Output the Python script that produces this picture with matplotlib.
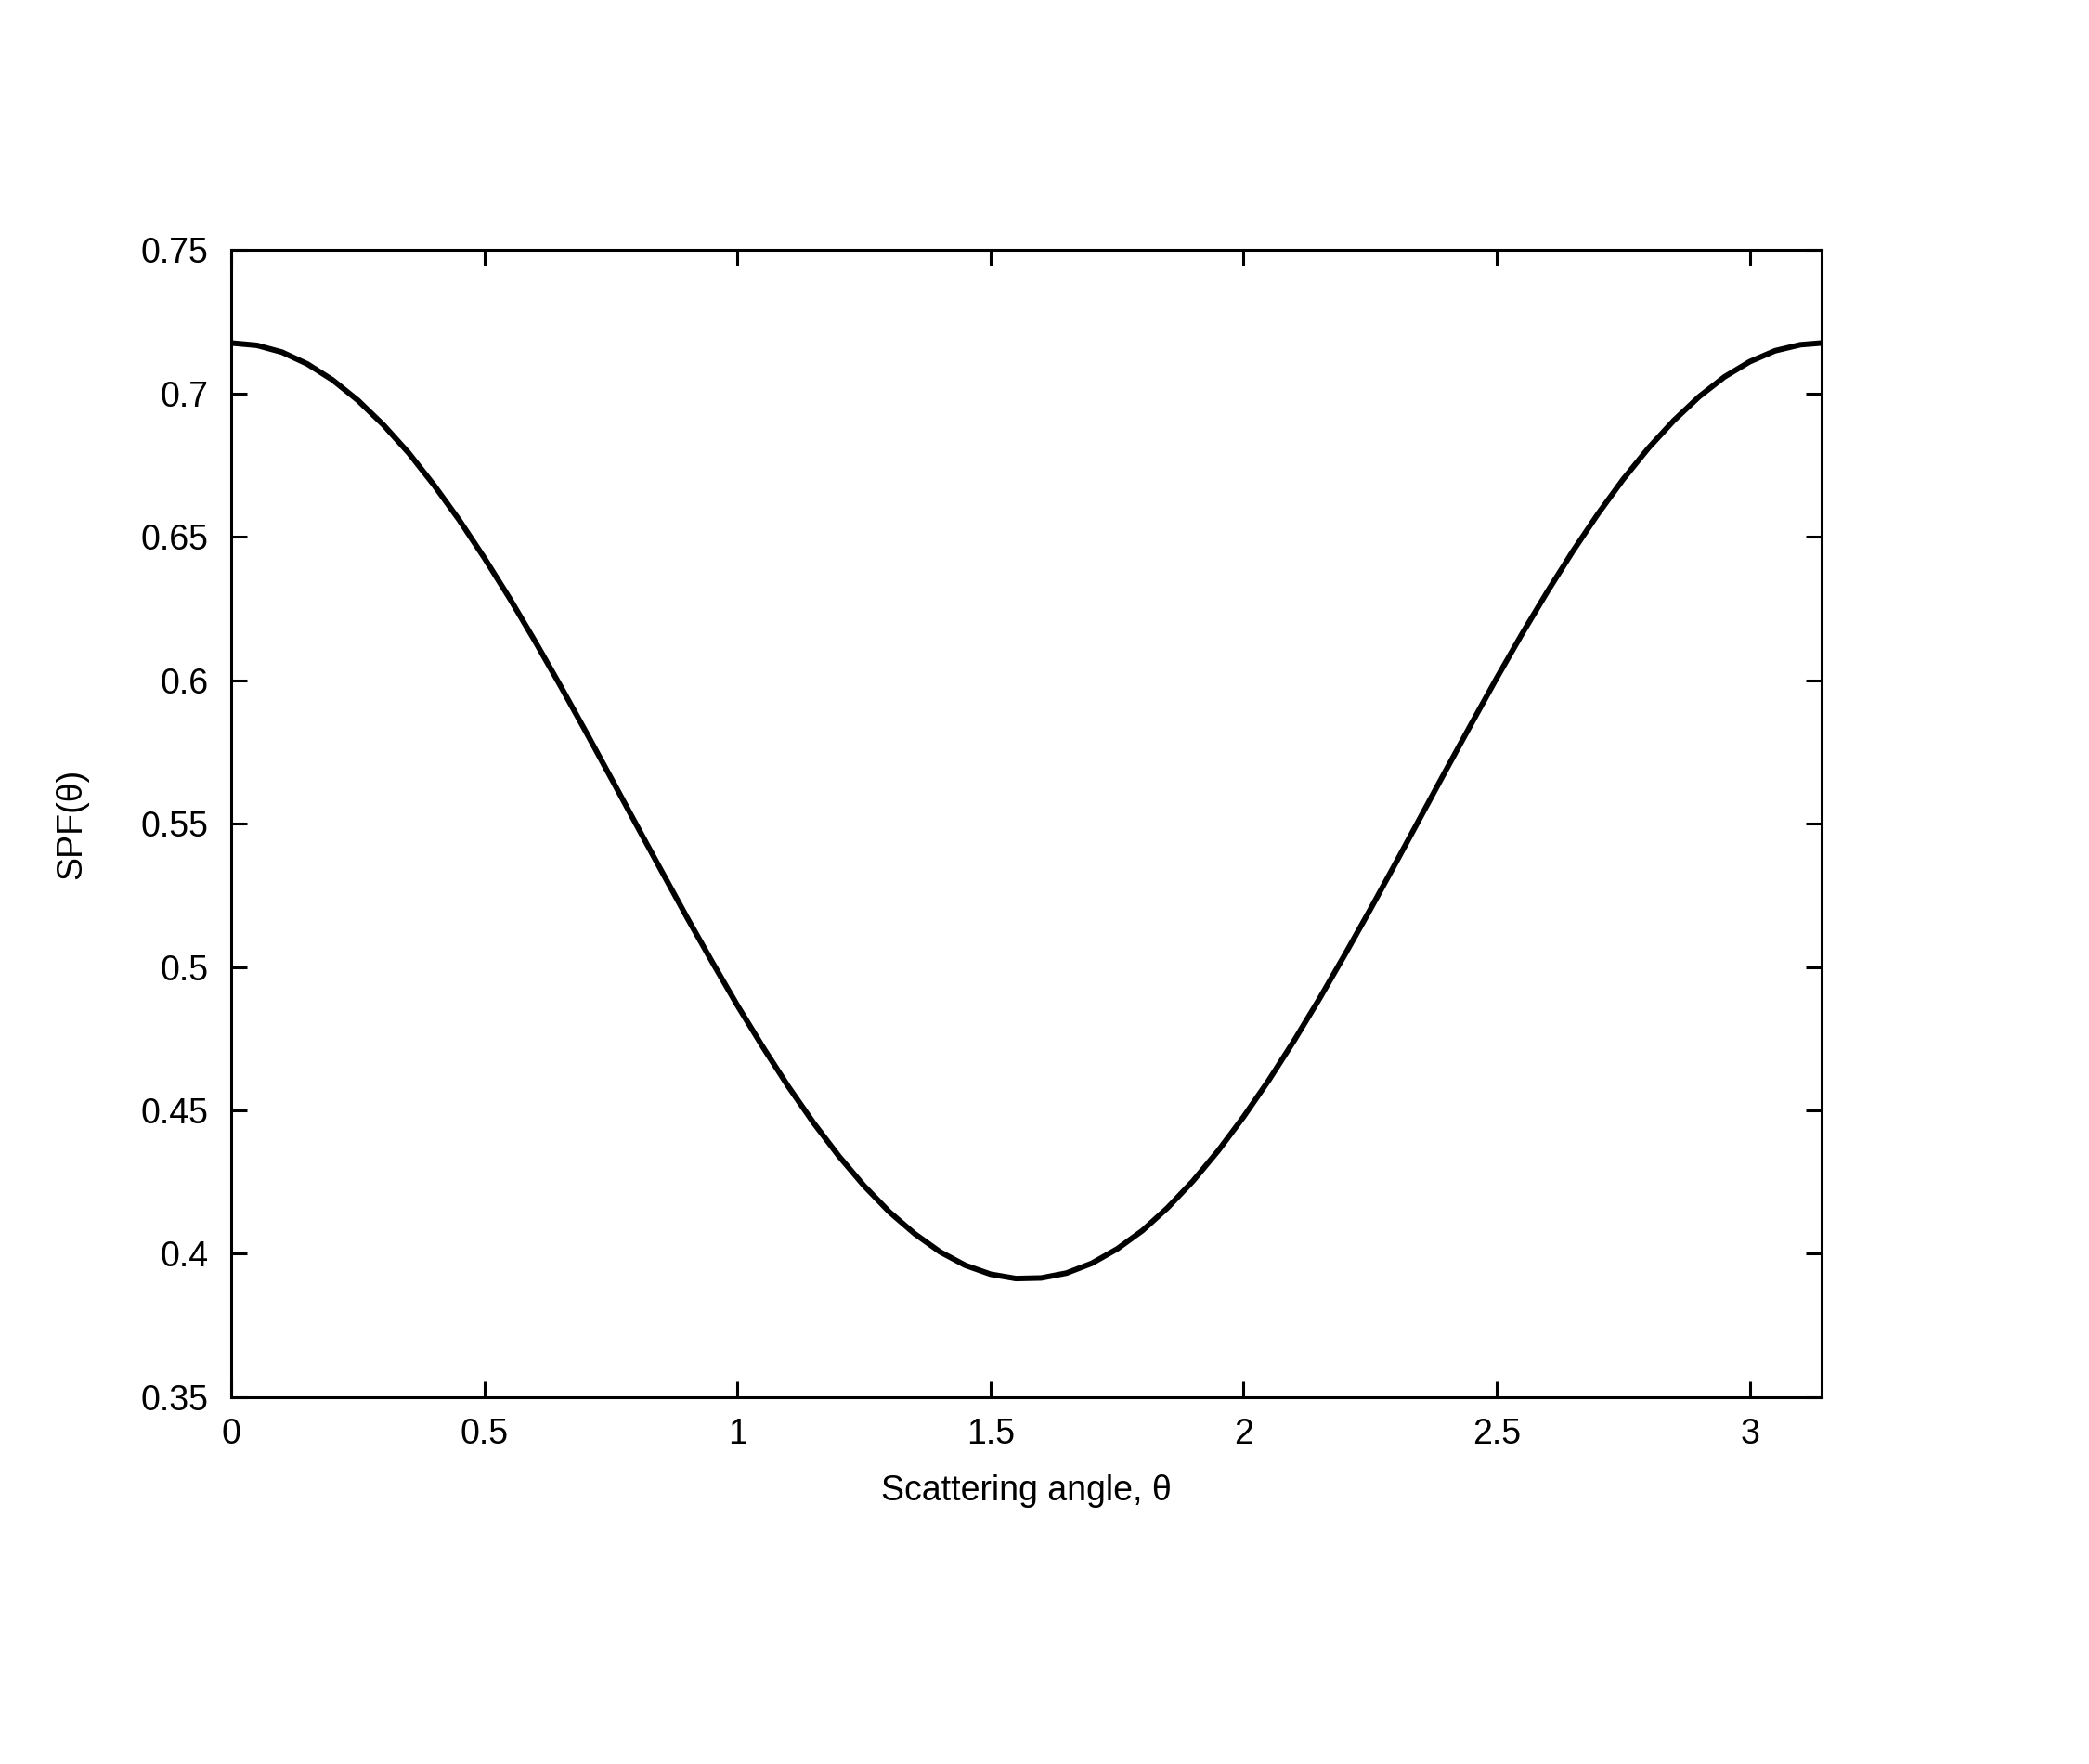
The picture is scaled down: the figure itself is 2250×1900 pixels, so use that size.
import numpy as np
import matplotlib
matplotlib.use("Agg")
import matplotlib.pyplot as plt

plt.rcParams['font.family'] = ['Liberation Sans', 'DejaVu Sans']

# scattering angle (rad) and SPF values
theta = [0.00, 0.05, 0.10, 0.15, 0.20, 0.25, 0.30, 0.35, 0.40, 0.45,
         0.50, 0.55, 0.60, 0.65, 0.70, 0.75, 0.80, 0.85, 0.90, 0.95,
         1.00, 1.05, 1.10, 1.15, 1.20, 1.25, 1.30, 1.35, 1.40, 1.45,
         1.50, 1.55, 1.60, 1.65, 1.70, 1.75, 1.80, 1.85, 1.90, 1.95,
         2.00, 2.05, 2.10, 2.15, 2.20, 2.25, 2.30, 2.35, 2.40, 2.45,
         2.50, 2.55, 2.60, 2.65, 2.70, 2.75, 2.80, 2.85, 2.90, 2.95,
         3.00, 3.05, 3.10, 3.1416]
spf = [0.7175, 0.7167, 0.7143, 0.7102, 0.7046, 0.6975, 0.6890, 0.6792, 0.6680, 0.6558,
       0.6425, 0.6284, 0.6135, 0.5980, 0.5821, 0.5659, 0.5496, 0.5334, 0.5173, 0.5017,
       0.4865, 0.4721, 0.4584, 0.4457, 0.4341, 0.4237, 0.4146, 0.4070, 0.4007, 0.3960,
       0.3929, 0.3914, 0.3916, 0.3933, 0.3967, 0.4017, 0.4081, 0.4161, 0.4254, 0.4360,
       0.4478, 0.4606, 0.4744, 0.4890, 0.5043, 0.5200, 0.5361, 0.5524, 0.5687, 0.5848,
       0.6007, 0.6161, 0.6308, 0.6448, 0.6579, 0.6700, 0.6809, 0.6905, 0.6988, 0.7057,
       0.7110, 0.7148, 0.7169, 0.7175]

xticks = [0, 0.5, 1, 1.5, 2, 2.5, 3]
xticklabels = ["0", "0.5", "1", "1.5", "2", "2.5", "3"]
yticks = [0.35, 0.4, 0.45, 0.5, 0.55, 0.6, 0.65, 0.7, 0.75]
yticklabels = ["0.35", "0.4", "0.45", "0.5", "0.55", "0.6", "0.65", "0.7", "0.75"]

fig = plt.figure(figsize=(22.5, 19), dpi=100)
ax = fig.add_axes([0.1108, 0.2079, 0.7611, 0.6505])

ax.plot(theta, spf, color="black", lw=4.3, solid_capstyle="butt")

ax.set_xlim(0, np.pi)
ax.set_ylim(0.35, 0.75)
ax.set_xticks(xticks)
ax.set_xticklabels(xticklabels)
ax.set_yticks(yticks)
ax.set_yticklabels(yticklabels)

for s in ax.spines.values():
    s.set_linewidth(2.2)
ax.tick_params(direction="in", length=12.5, width=2.2, top=True, right=True,
               labelsize=27, pad=16)
ax.tick_params(axis="y", pad=18)

ax.set_xlabel("Scattering angle, θ", fontsize=27, labelpad=18)
ax.set_ylabel("SPF(θ)", fontsize=27, labelpad=40)

fig.savefig("out.png", dpi=100, facecolor="white")
